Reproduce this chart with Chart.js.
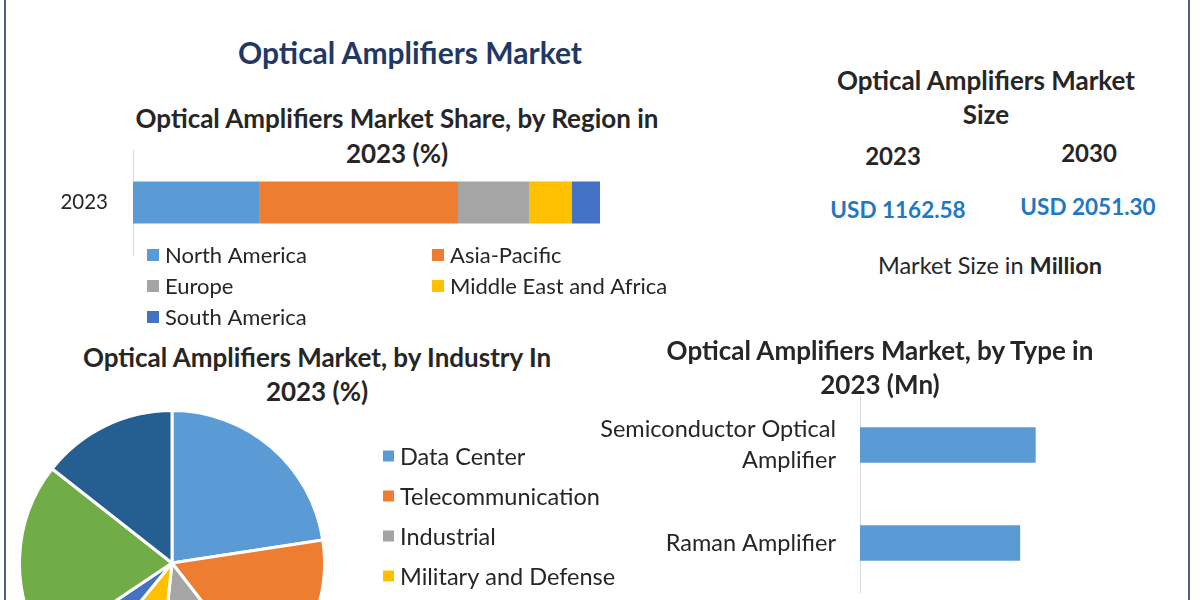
<!DOCTYPE html>
<html>
<head>
<meta charset="utf-8">
<script src="https://cdn.jsdelivr.net/npm/chart.js@4"></script>
<style>
  html, body { margin: 0; padding: 0; background: #fff; }
  #page { position: relative; width: 1200px; height: 600px; overflow: hidden; background: #fff; font-family: Lato, "Open Sans", sans-serif; color: #262626; }
  .txt { position: absolute; text-align: center; line-height: 34px; white-space: nowrap; }
  .b { font-weight: bold; }
  canvas { position: absolute; }
  .edge { position: absolute; top: 0; width: 2px; height: 600px; background: #4e6076; }
</style>
</head>
<body>
<div id="page">
  <div class="edge" style="left:4px"></div>
  <div class="edge" style="left:1188px"></div>

  <div class="txt b" style="left:110px;width:600px;top:35px;font-size:30px;color:#1f3864">Optical Amplifiers Market</div>

  <div class="txt b" style="left:97px;width:600px;top:101px;font-size:26px;line-height:35px">Optical Amplifiers Market Share, by Region in<br>2023 (%)</div>
  <canvas id="regionChart" width="700" height="195" style="left:0;top:140px"></canvas>

  <div class="txt b" style="left:786px;width:400px;top:63px;font-size:26px">Optical Amplifiers Market<br>Size</div>
  <div class="txt b" style="left:813px;width:160px;top:139px;font-size:24px">2023</div>
  <div class="txt b" style="left:1009px;width:160px;top:136px;font-size:24px">2030</div>
  <div class="txt b" style="left:798px;width:200px;top:193px;font-size:22.5px;color:#1f78c1">USD 1162.58</div>
  <div class="txt b" style="left:988px;width:200px;top:190px;font-size:22.5px;color:#1f78c1">USD 2051.30</div>
  <div class="txt" style="left:840px;width:300px;top:248px;font-size:23.5px">Market Size in <b>Million</b></div>

  <div class="txt b" style="left:17px;width:600px;top:340px;font-size:26px">Optical Amplifiers Market, by Industry In<br>2023 (%)</div>
  <canvas id="industryChart" width="622" height="330" style="left:18px;top:409px"></canvas>

  <div class="txt b" style="left:580px;width:600px;top:333px;font-size:26px">Optical Amplifiers Market, by Type in<br>2023 (Mn)</div>
  <canvas id="typeChart" width="620" height="210" style="left:580px;top:390px"></canvas>
</div>

<script>
// Market share by region, 2023 (%)
const regionYears = ['2023'];
const regions = ['North America', 'Asia-Pacific', 'Europe', 'Middle East and Africa', 'South America'];
const regionShares = [27.0, 42.6, 15.2, 9.2, 6.0];

// Market by industry, 2023 (%)
const industries = ['Data Center', 'Telecommunication', 'Industrial', 'Military and Defense', 'Healthcare', 'Research', 'Others'];
const industryShares = [22.6, 16.9, 12.2, 9.2, 4.7, 20.0, 14.4];

// Market by type, 2023 (Mn)
const types = [['Semiconductor Optical', 'Amplifier'], 'Raman Amplifier'];
const typeValues = [340, 310];

const palette = ['#5b9bd5', '#ed7d31', '#a5a5a5', '#ffc000', '#4472c4', '#70ad47', '#255e91'];
const fontFamily = 'Lato, "Open Sans", sans-serif';
const textColor = '#262626';

// legend drawn as a grid (Excel-like columns)
const gridLegend = {
  id: 'gridLegend',
  afterDraw(chart, args, opts) {
    if (!opts || !opts.show) return;
    const ctx = chart.ctx;
    const items = chart.options.plugins.legend.labels.generateLabels(chart);
    ctx.save();
    ctx.font = opts.fontSize + 'px ' + fontFamily;
    ctx.textBaseline = 'middle';
    items.forEach((item, i) => {
      const col = i % opts.cols;
      const row = Math.floor(i / opts.cols);
      const x = opts.x + col * opts.colWidth;
      const y = opts.y + row * opts.rowHeight;
      ctx.fillStyle = item.fillStyle;
      ctx.fillRect(x, y - opts.box / 2, opts.box, opts.box);
      ctx.fillStyle = textColor;
      ctx.fillText(item.text, x + opts.box + opts.gap, y + 1);
    });
    ctx.restore();
  }
};

// keep the category axis flush with the chart area
function fixAxis(width) {
  return s => {
    s.width = width;
    s.paddingTop = 0;
    s.paddingBottom = 0;
  };
}

// stacked bar by region
new Chart(document.getElementById('regionChart'), {
  type: 'bar',
  data: {
    labels: regionYears,
    datasets: regions.map((r, i) => ({
      label: r,
      data: [regionShares[i]],
      backgroundColor: palette[i],
      barPercentage: 0.4,
      categoryPercentage: 1
    }))
  },
  options: {
    responsive: false,
    animation: false,
    indexAxis: 'y',
    layout: { padding: { left: 0, right: 100, top: 10, bottom: 80 } },
    scales: {
      x: { stacked: true, display: false, min: 0, max: 100 },
      y: {
        stacked: true,
        grid: { display: false },
        border: { display: true, color: '#d9d9d9' },
        ticks: { color: textColor, padding: 17, font: { family: fontFamily, size: 20.5 } },
        afterFit: fixAxis(133)
      }
    },
    plugins: {
      legend: { display: false },
      tooltip: { enabled: false },
      gridLegend: { show: true, x: 147, y: 115, cols: 2, colWidth: 285, rowHeight: 31, box: 12, gap: 6, fontSize: 22 }
    }
  },
  plugins: [gridLegend]
});

// pie by industry
new Chart(document.getElementById('industryChart'), {
  type: 'pie',
  data: {
    labels: industries,
    datasets: [{
      data: industryShares,
      backgroundColor: palette,
      borderColor: '#ffffff',
      borderWidth: 3
    }]
  },
  options: {
    responsive: false,
    animation: false,
    layout: { padding: { left: 0, right: 314, top: 0, bottom: 22 } },
    plugins: {
      legend: { display: false },
      tooltip: { enabled: false },
      gridLegend: { show: true, x: 365, y: 47, cols: 1, colWidth: 0, rowHeight: 40, box: 11, gap: 6, fontSize: 23.5 }
    }
  },
  plugins: [gridLegend]
});

// horizontal bars by type
new Chart(document.getElementById('typeChart'), {
  type: 'bar',
  data: {
    labels: types,
    datasets: [{
      label: 'Market (Mn)',
      data: typeValues,
      backgroundColor: palette[0],
      barPercentage: 0.36,
      categoryPercentage: 1
    }]
  },
  options: {
    responsive: false,
    animation: false,
    indexAxis: 'y',
    layout: { padding: { left: 0, right: 30, top: 6, bottom: 8 } },
    scales: {
      x: { display: false, min: 0, max: 600 },
      y: {
        grid: { display: false },
        border: { display: true, color: '#d9d9d9' },
        ticks: { color: textColor, padding: 16, font: { family: fontFamily, size: 23.5, lineHeight: 1.32 } },
        afterFit: fixAxis(280)
      }
    },
    plugins: {
      legend: { display: false },
      tooltip: { enabled: false }
    }
  }
});
</script>
</body>
</html>
